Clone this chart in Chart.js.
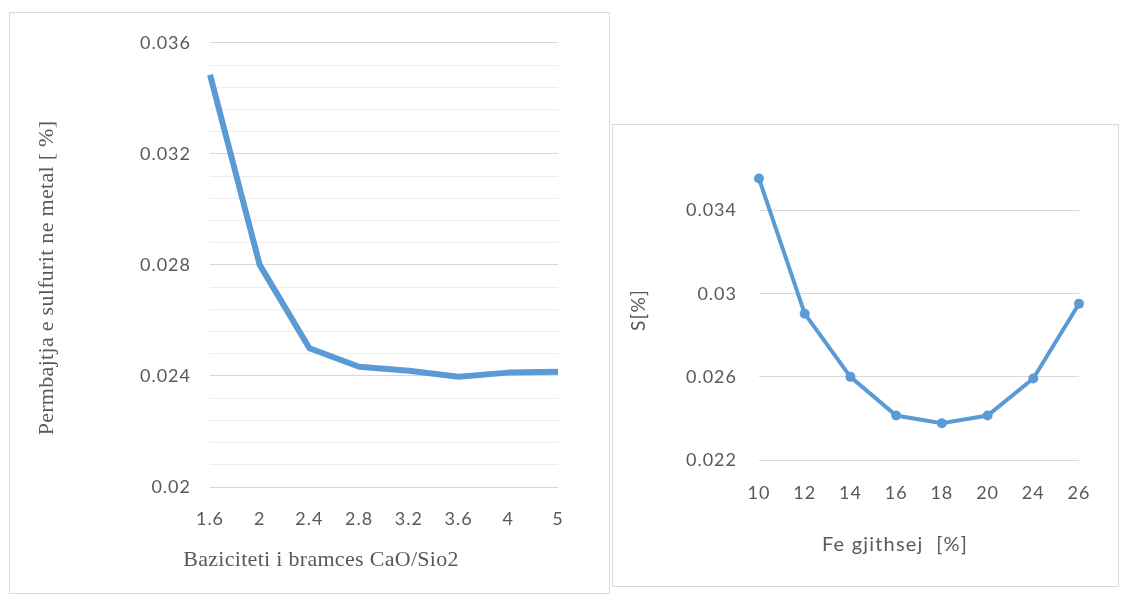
<!DOCTYPE html>
<html>
<head>
<meta charset="utf-8">
<script src="https://cdn.jsdelivr.net/npm/chart.js@4/dist/chart.umd.min.js"></script>
<style>
  html, body { margin:0; padding:0; background:#fff; }
  body { width:1123px; height:596px; position:relative; overflow:hidden; }
  .box { position:absolute; border:1px solid #d9d9d9; background:#fff; box-sizing:border-box; }
  .box canvas { display:block; }
</style>
</head>
<body>
<div class="box" id="boxL" style="left:9px; top:12px; width:601px; height:582px;"><canvas id="chartL" width="599" height="580"></canvas></div>
<div class="box" id="boxR" style="left:612px; top:124px; width:507px; height:463px;"><canvas id="chartR" width="505" height="461"></canvas></div>
<script>
// données — graphique de gauche (basicité)
const basicityLabels = ['1.6', '2', '2.4', '2.8', '3.2', '3.6', '4', '5'];
const sulfurByBasicity = [0.03485, 0.0280, 0.0250, 0.02433, 0.02419, 0.02397, 0.02412, 0.02415];
const leftYTicks = [0.02, 0.024, 0.028, 0.032, 0.036];
const leftYLabels = ['0.02', '0.024', '0.028', '0.032', '0.036'];
const leftMinorPerMajor = 5;

// données — graphique de droite (Fe total)
const feLabels = ['10', '12', '14', '16', '18', '20', '24', '26'];
const sulfurByFe = [0.03554, 0.02904, 0.02600, 0.02414, 0.02377, 0.02414, 0.02592, 0.02952];
const rightYTicks = [0.022, 0.026, 0.03, 0.034];
const rightYLabels = ['0.022', '0.026', '0.03', '0.034'];

const BLUE = '#5B9BD5';
const TXT = '#595959';
const TICK_FONT = {family: 'Lato', size: 18};

// espacement des lettres (le rendu d'origine est un peu étiré)
const spacing = {
  id: 'spacing',
  beforeDraw(chart) { chart.ctx.letterSpacing = '1px'; }
};

// titres d'axes dessinés à la main (position libre)
const axisTitles = {
  id: 'axisTitles',
  afterDraw(chart, args, opts) {
    const ctx = chart.ctx, a = chart.chartArea;
    ctx.save();
    ctx.fillStyle = TXT;
    ctx.textAlign = 'center';
    ctx.textBaseline = 'middle';
    ctx.letterSpacing = opts.spacing || '0px';
    ctx.font = opts.xFont;
    ctx.fillText(opts.xText, a.left + opts.xdx, a.bottom + opts.xdy);
    ctx.translate(opts.yx, opts.yy);
    ctx.rotate(-Math.PI / 2);
    ctx.font = opts.yFont;
    ctx.fillText(opts.yText, 0, 0);
    ctx.restore();
  }
};

function gridColorFor(majors) {
  return (c) => {
    const v = c.tick ? c.tick.value : null;
    return majors.some(m => Math.abs(m - v) < 1e-9) ? '#d9d9d9' : '#eeeeee';
  };
}

// gauche
const leftMinorTicks = [];
for (let i = 0; i < leftYTicks.length - 1; i++) {
  for (let k = 0; k < leftMinorPerMajor; k++) {
    leftMinorTicks.push(leftYTicks[i] + (leftYTicks[i + 1] - leftYTicks[i]) * k / leftMinorPerMajor);
  }
}
leftMinorTicks.push(leftYTicks[leftYTicks.length - 1]);

new Chart(document.getElementById('chartL'), {
  type: 'line',
  data: {labels: basicityLabels, datasets: [{data: sulfurByBasicity, borderColor: BLUE, borderWidth: 6, pointRadius: 0, tension: 0, borderJoinStyle: 'round'}]},
  options: {
    responsive: false, animation: false,
    layout: {padding: {left: 0, right: 51, top: 27, bottom: 0}},
    plugins: {
      legend: {display: false}, tooltip: {enabled: false},
      axisTitles: {
        xText: 'Baziciteti i bramces CaO/Sio2', xFont: '22px "Liberation Serif"', xdx: 111, xdy: 73,
        yText: 'Permbajtja e sulfurit ne metal [ %]', yFont: '22px "Liberation Serif"', yx: 37, yy: 265,
        spacing: '0.3px'
      }
    },
    scales: {
      x: {
        offset: false,
        grid: {display: false}, border: {display: false},
        ticks: {color: TXT, font: TICK_FONT, padding: 13, maxRotation: 0},
        afterFit: (s) => { s.height = 106; }
      },
      y: {
        min: leftYTicks[0], max: leftYTicks[leftYTicks.length - 1],
        afterBuildTicks: (s) => { s.ticks = leftMinorTicks.map(v => ({value: v})); },
        grid: {color: gridColorFor(leftYTicks), drawTicks: false}, border: {display: false},
        ticks: {
          color: TXT, font: TICK_FONT, padding: 19, autoSkip: false,
          callback: (v) => { const i = leftYTicks.findIndex(m => Math.abs(m - v) < 1e-9); return i >= 0 ? leftYLabels[i] : ''; }
        },
        afterFit: (s) => { s.width = 200; }
      }
    }
  },
  plugins: [spacing, axisTitles]
});

// droite
new Chart(document.getElementById('chartR'), {
  type: 'line',
  data: {labels: feLabels, datasets: [{data: sulfurByFe, borderColor: BLUE, backgroundColor: BLUE, borderWidth: 4, pointRadius: 5, pointBorderWidth: 0, tension: 0}]},
  options: {
    responsive: false, animation: false,
    layout: {padding: {left: 0, right: 39, top: 44, bottom: 0}},
    plugins: {
      legend: {display: false}, tooltip: {enabled: false},
      axisTitles: {
        xText: 'Fe gjithsej  [%]', xFont: '20px Lato', xdx: 136, xdy: 85,
        yText: 'S[%]', yFont: '19px Lato', yx: 26, yy: 185,
        spacing: '1.2px'
      }
    },
    scales: {
      x: {
        offset: false,
        grid: {display: false}, border: {display: false},
        ticks: {color: TXT, font: TICK_FONT, padding: 14, maxRotation: 0},
        afterFit: (s) => { s.height = 126; }
      },
      y: {
        min: 0.022, max: 0.036,
        afterBuildTicks: (s) => { s.ticks = rightYTicks.map(v => ({value: v})); },
        grid: {color: '#d9d9d9', drawTicks: false}, border: {display: false},
        ticks: {
          color: TXT, font: TICK_FONT, padding: 22, autoSkip: false,
          callback: (v, i) => rightYLabels[i]
        },
        afterFit: (s) => { s.width = 146; }
      }
    }
  },
  plugins: [spacing, axisTitles]
});
</script>
</body>
</html>
